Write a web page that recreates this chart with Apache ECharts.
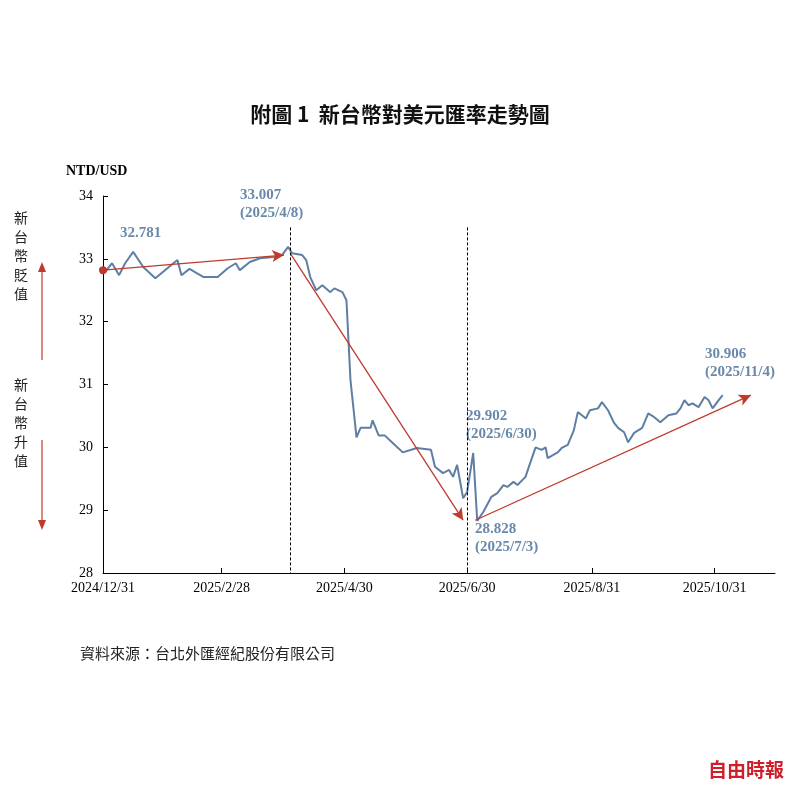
<!DOCTYPE html>
<html><head><meta charset="utf-8">
<script src="https://cdn.jsdelivr.net/npm/echarts@6/dist/echarts.min.js"></script>
<style>html,body{margin:0;background:#fff}#c{width:800px;height:790px}</style>
</head><body><div id="c"></div>
<script>
// day offset from 2024/12/31
const days = [1,4.5,8,11,15,20,26,32,37,39,43,50,57,62,66,68,73,78,85,89,92,94,99,101,103,106,109,113,115,119,121,123,126,128,133,134,137,140,144,149,156,163,165,169,172,174,176,179,181,184,186,189,193,196,199,201,204,206,210,212,215,218,220,221,226,228,231,234,236,238,240,242,246,248,251,254,256,259,261,264,268,271,274,277,281,285,287,289,291,293,296,299,301,303,306,308];
const rates = [32.79,32.93,32.74,32.93,33.11,32.87,32.69,32.85,32.98,32.74,32.84,32.71,32.71,32.85,32.93,32.82,32.95,33.01,33.03,33.06,33.19,33.09,33.06,32.98,32.71,32.5,32.58,32.47,32.53,32.47,32.34,31.07,30.16,30.31,30.31,30.43,30.19,30.19,30.07,29.92,29.99,29.96,29.69,29.59,29.64,29.53,29.72,29.19,29.29,29.91,28.83,28.97,29.21,29.27,29.4,29.37,29.45,29.4,29.53,29.72,30.0,29.96,30.0,29.83,29.92,29.99,30.04,30.27,30.56,30.51,30.46,30.59,30.62,30.72,30.59,30.39,30.31,30.24,30.08,30.23,30.31,30.54,30.48,30.4,30.51,30.54,30.62,30.75,30.67,30.7,30.64,30.8,30.75,30.62,30.75,30.83];
const tickDays = [0,59,120,181,243,304];
const tickLabels = ['2024/12/31','2025/2/28','2025/4/30','2025/6/30','2025/8/31','2025/10/31'];
const trendArrows = [[[0,32.82],[90,33.06]],[[93,33.09],[179,28.84]],[[185,28.84],[322,30.83]]];
const markDays = [93,181];
const serif = '"Liberation Serif","Noto Serif","Noto Sans CJK TC",serif';
const blue = '#5e7fa3', red = '#c0392b';
const chart = echarts.init(document.getElementById('c'));
chart.setOption({
  animation:false,
  grid:{left:103,right:25,top:196,bottom:217},
  xAxis:{type:'value',min:0,max:334,
    axisLine:{lineStyle:{color:'#000'}},splitLine:{show:false},
    axisTick:{customValues:tickDays,length:5,inside:true,lineStyle:{color:'#000'}},
    axisLabel:{customValues:tickDays,formatter:v=>tickLabels[tickDays.indexOf(v)],color:'#000',fontFamily:serif,fontSize:14,margin:8}},
  yAxis:{type:'value',min:28,max:34,interval:1,
    axisLine:{show:true,lineStyle:{color:'#000'}},splitLine:{show:false},
    axisTick:{show:true,inside:true,length:5,lineStyle:{color:'#000'}},
    axisLabel:{color:'#000',fontFamily:serif,fontSize:14,margin:10}},
  series:[{type:'line',data:days.map((d,i)=>[d,rates[i]]),showSymbol:false,
    lineStyle:{color:blue,width:2},
    markLine:{silent:true,label:{show:false},symbolSize:[8,12],
      data:[
        ...trendArrows.map((a,i)=>[{coord:a[0],symbol:i===0?'circle':'none',symbolSize:8,lineStyle:{color:red,width:1.3,type:'solid'},itemStyle:{color:'#9b2335'}},{coord:a[1],symbol:'arrow',symbolSize:[9,12],itemStyle:{color:red}}]),
        ...markDays.map(d=>[{coord:[d,33.5],symbol:'none',lineStyle:{color:'#000',type:[3,2],width:1}},{coord:[d,28],symbol:'none'}])
      ]}}],
  graphic:[
    {type:'text',left:'center',top:104,style:{text:'附圖 1  新台幣對美元匯率走勢圖',font:'bold 21px "Noto Sans CJK TC"',fill:'#111'}},
    {type:'text',left:66,top:164,style:{text:'NTD/USD',font:'bold 14px '+serif,fill:'#000'}},
    {type:'text',left:14,top:208,style:{text:'新\n台\n幣\n貶\n值',font:'14px "Noto Sans CJK TC"',fill:'#222',lineHeight:19}},
    {type:'text',left:14,top:375,style:{text:'新\n台\n幣\n升\n值',font:'14px "Noto Sans CJK TC"',fill:'#222',lineHeight:19}},
    {type:'line',shape:{x1:42,y1:270,x2:42,y2:360},style:{stroke:red,lineWidth:1.2}},
    {type:'polygon',shape:{points:[[38,272],[46,272],[42,262]]},style:{fill:red}},
    {type:'line',shape:{x1:42,y1:440,x2:42,y2:522},style:{stroke:red,lineWidth:1.2}},
    {type:'polygon',shape:{points:[[38,520],[46,520],[42,530]]},style:{fill:red}},
    {type:'text',left:120,top:226,style:{text:'32.781',font:'bold 15px '+serif,fill:'#6a89aa'}},
    {type:'text',left:240,top:186,style:{text:'33.007\n(2025/4/8)',font:'bold 15px '+serif,fill:'#6a89aa',align:'center',lineHeight:18},x:60},
    {type:'text',left:466,top:407,style:{text:'29.902\n(2025/6/30)',font:'bold 15px '+serif,fill:'#6a89aa',align:'center',lineHeight:18},x:50},
    {type:'text',left:475,top:520,style:{text:'28.828\n(2025/7/3)',font:'bold 15px '+serif,fill:'#6a89aa',align:'center',lineHeight:18},x:40},
    {type:'text',left:705,top:345,style:{text:'30.906\n(2025/11/4)',font:'bold 15px '+serif,fill:'#6a89aa',align:'center',lineHeight:18},x:40},
    {type:'text',left:80,top:646,style:{text:'資料來源：台北外匯經紀股份有限公司',font:'15px "Noto Sans CJK TC"',fill:'#222'}},
    {type:'text',left:708,top:760,style:{text:'自由時報',font:'bold 19px "Noto Sans CJK TC"',fill:'#d21e2b'}}
  ]
});
</script></body></html>
